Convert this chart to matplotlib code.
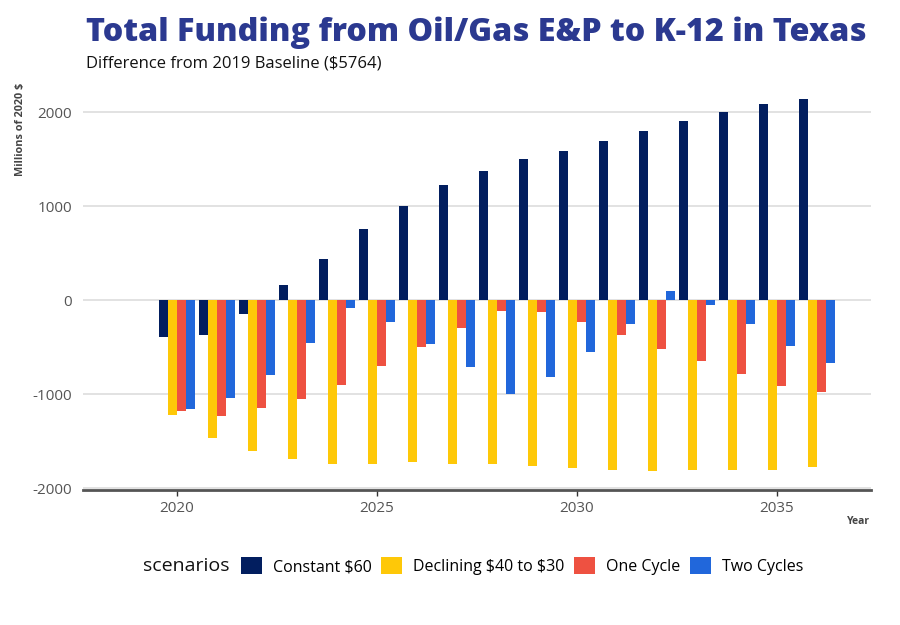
import matplotlib
matplotlib.use("Agg")
import matplotlib.pyplot as plt
import numpy as np
from matplotlib.patches import Patch

years = list(range(2019, 2037))
scenarios = ["Constant \\$60", "Declining \\$40 to \\$30", "One Cycle", "Two Cycles"]
constant_60 = [0, -394, -365, -149, 167, 440, 757, 1002, 1225, 1374, 1502, 1587, 1694, 1800, 1906, 2002, 2087, 2140]
declining_40_30 = [0, -1227, -1471, -1610, -1695, -1748, -1748, -1727, -1738, -1748, -1769, -1790, -1811, -1822, -1811, -1811, -1811, -1779]
one_cycle = [0, -1184, -1237, -1152, -1056, -907, -705, -503, -301, -120, -130, -237, -365, -514, -652, -780, -918, -982]
two_cycles = [0, -1163, -1046, -801, -457, -78, -234, -461, -716, -1003, -812, -556, -248, 103, -46, -258, -482, -663]
colors = ["#021E5F", "#FEC808", "#EE5141", "#2167DB"]

series = [constant_60, declining_40_30, one_cycle, two_cycles]

fig = plt.figure(figsize=(9, 6.25), dpi=100)
ax = fig.add_axes([83/900, 1 - 490/625, (871-83)/900, (490-80)/625])

fam = ["Open Sans", "DejaVu Sans"]

w = 0.9 / 4
x = np.array(years, dtype=float)
for i, (vals, c) in enumerate(zip(series, colors)):
    ax.bar(x + (i - 1.5) * w, vals, width=w, color=c, zorder=3, linewidth=0)

ax.set_xlim(2017.65, 2037.35)
ax.set_ylim(-2020, 2344)
ax.set_yticks([-2000, -1000, 0, 1000, 2000])
ax.set_yticklabels(["-2000", "-1000", "0", "1000", "2000"], family=fam, fontsize=11, color="#555555")
ax.set_xticks([2020, 2025, 2030, 2035])
ax.set_xticklabels(["2020", "2025", "2030", "2035"], family=fam, fontsize=11, color="#555555")
ax.grid(axis="y", color="#DDDDDD", linewidth=1.2, zorder=0)
for s in ["left", "right", "top"]:
    ax.spines[s].set_visible(False)
ax.spines["bottom"].set_color("#555555")
ax.spines["bottom"].set_linewidth(2)
ax.tick_params(axis="y", length=0, pad=8)
ax.tick_params(axis="x", length=4, width=1, color="#333333", pad=4)

ax.set_ylabel("Millions of 2020 \\$", family=fam, fontsize=7.8, fontweight="bold", color="#444444")
ax.yaxis.set_label_coords(-0.072, 0.88)
fig.text(870/900, 1 - 521/625, "Year", family=fam, fontsize=7.5, fontweight="bold", color="#444444", ha="right", va="center")

fig.text(86/900, 1 - 33/625, "Total Funding from Oil/Gas E&P to K-12 in Texas", family=fam,
         fontsize=23.2, fontweight="heavy", color="#2B3990", ha="left", va="center")
fig.text(86/900, 1 - 63/625, "Difference from 2019 Baseline (\\$5764)", family=fam,
         fontsize=12, color="#111111", ha="left", va="center")

fig.text(143/900, 1 - 566/625, "scenarios", family=fam, fontsize=14, color="#111111", ha="left", va="center")
handles = [Patch(facecolor=c, edgecolor="none") for c in colors]
leg = fig.legend(handles, scenarios, loc="center left", bbox_to_anchor=(241/900, 1 - 566/625), ncol=4,
                 frameon=False, prop={"family": fam, "size": 11.5}, borderpad=0, borderaxespad=0,
                 handlelength=1.3, handleheight=1.3, handletextpad=0.7, columnspacing=0.6)

fig.savefig("out.png", dpi=100)
